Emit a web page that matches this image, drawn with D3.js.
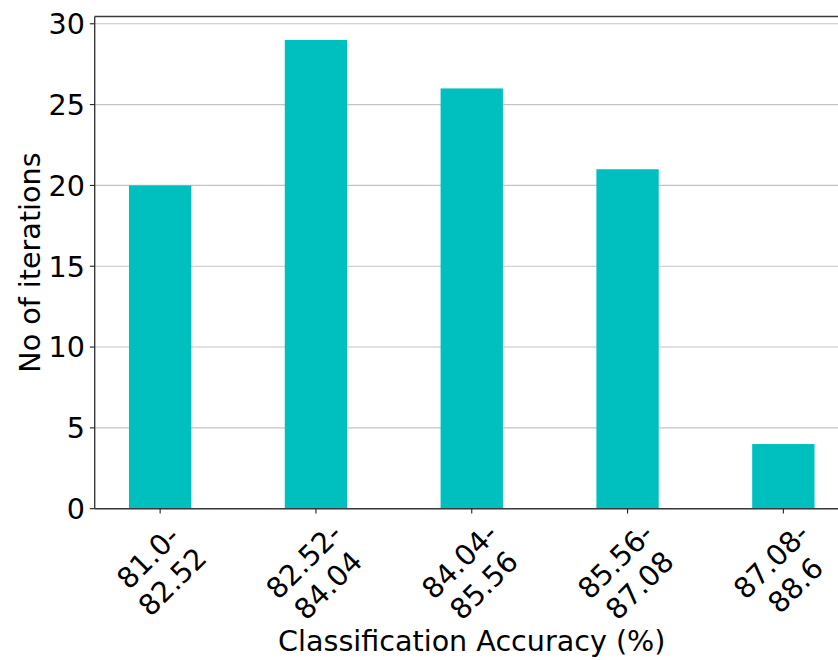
<!DOCTYPE html>
<html>
<head>
<meta charset="utf-8">
<script src="https://cdn.jsdelivr.net/npm/d3@7"></script>
<style>
  html, body { margin: 0; padding: 0; background: #fff; }
  svg { display: block; font-family: "DejaVu Sans", sans-serif; }
</style>
</head>
<body>
<svg id="chart" width="838" height="660"></svg>
<script>
// Accuracy bins and how many runs fell into each
const categories = ["81.0-\n82.52", "82.52-\n84.04", "84.04-\n85.56", "85.56-\n87.08", "87.08-\n88.6"];
const counts = [20, 29, 26, 21, 4];
const yTicks = [0, 5, 10, 15, 20, 25, 30];
const xTitle = "Classification Accuracy (%)";
const yTitle = "No of iterations";

const W = 838, H = 660;
const fontSize = 28.6;
const plot = { left: 94.7, right: 848.8, top: 16.5, bottom: 508.7 };
const tickLen = 4.9, tickPad = 4.9;
const barWidth = 0.4;

const svg = d3.select("#chart");

const x = d3.scaleLinear()
  .domain([-0.42, categories.length - 1 + 0.42])
  .range([plot.left, plot.right]);
const y = d3.scaleLinear()
  .domain([0, d3.max(counts) * 1.05])
  .range([plot.bottom, plot.top]);

// horizontal grid
svg.append("g")
  .selectAll("line")
  .data(yTicks)
  .join("line")
  .attr("x1", plot.left).attr("x2", plot.right)
  .attr("y1", d => y(d)).attr("y2", d => y(d))
  .attr("stroke", "#c4c4c4")
  .attr("stroke-width", 1.1);

// bars
svg.append("g")
  .selectAll("rect")
  .data(counts)
  .join("rect")
  .attr("x", (d, i) => x(i - barWidth / 2))
  .attr("width", (d, i) => x(i + barWidth / 2) - x(i - barWidth / 2))
  .attr("y", d => y(d))
  .attr("height", d => y(0) - y(d))
  .attr("fill", "#00bfbf");

// spines
const spine = svg.append("g").attr("stroke", "#3a3a3a").attr("stroke-width", 1.4).attr("fill", "none");
spine.append("line").attr("x1", plot.left).attr("x2", plot.left).attr("y1", plot.top).attr("y2", plot.bottom);
spine.append("line").attr("x1", plot.left).attr("x2", plot.right).attr("y1", plot.bottom).attr("y2", plot.bottom);
spine.append("line").attr("x1", plot.left).attr("x2", plot.right).attr("y1", plot.top).attr("y2", plot.top);
spine.append("line").attr("x1", plot.right).attr("x2", plot.right).attr("y1", plot.top).attr("y2", plot.bottom);

// y axis ticks and labels
const yAxis = svg.append("g");
yAxis.selectAll("line")
  .data(yTicks)
  .join("line")
  .attr("x1", plot.left - tickLen).attr("x2", plot.left)
  .attr("y1", d => y(d)).attr("y2", d => y(d))
  .attr("stroke", "#222").attr("stroke-width", 1.1);
yAxis.selectAll("text")
  .data(yTicks)
  .join("text")
  .attr("x", plot.left - tickLen - tickPad)
  .attr("y", d => y(d) + fontSize * 0.3645)
  .attr("text-anchor", "end")
  .attr("font-size", fontSize)
  .attr("fill", "#000")
  .text(d => d);

// x axis ticks and rotated two-line labels
const xAxis = svg.append("g");
xAxis.selectAll("line")
  .data(categories)
  .join("line")
  .attr("x1", (d, i) => x(i)).attr("x2", (d, i) => x(i))
  .attr("y1", plot.bottom).attr("y2", plot.bottom + tickLen)
  .attr("stroke", "#222").attr("stroke-width", 1.1);

const labelTop = plot.bottom + tickLen + tickPad - 2;
const lineGap = fontSize * 1.2;
categories.forEach((label, i) => {
  const g = xAxis.append("g");
  const t = g.append("text")
    .attr("text-anchor", "middle")
    .attr("font-size", fontSize)
    .attr("fill", "#000");
  label.split("\n").forEach((line, k) => {
    t.append("tspan").attr("x", 0).attr("y", k * lineGap).text(line);
  });
  const b = t.node().getBBox();
  const cx = b.x + b.width / 2, cy = b.y + b.height / 2;
  const half = (b.width + b.height) / (2 * Math.SQRT2);
  g.attr("transform", `translate(${x(i)},${labelTop + half}) rotate(-45) translate(${-cx},${-cy})`);
});

// axis titles
svg.append("text")
  .attr("x", (plot.left + plot.right) / 2)
  .attr("y", 651)
  .attr("text-anchor", "middle")
  .attr("font-size", fontSize)
  .attr("fill", "#000")
  .text(xTitle);

svg.append("text")
  .attr("transform", `translate(39.5,${(plot.top + plot.bottom) / 2}) rotate(-90)`)
  .attr("text-anchor", "middle")
  .attr("font-size", fontSize)
  .attr("fill", "#000")
  .text(yTitle);
</script>
</body>
</html>
